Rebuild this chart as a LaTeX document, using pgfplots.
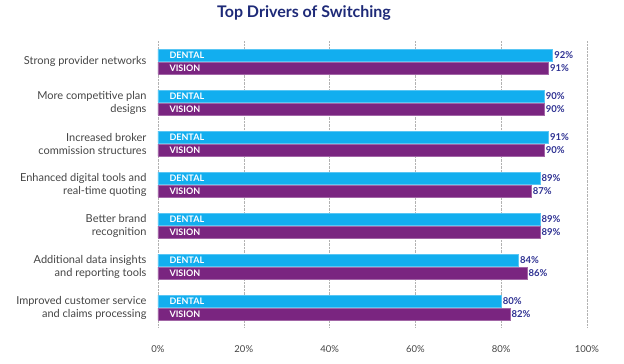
\documentclass[border=0pt]{standalone}
\usepackage{pgfplots}
\pgfplotsset{compat=1.18}
\usepackage{fontspec}
\setmainfont{Lato}
\setsansfont{Lato}
\definecolor{dental}{HTML}{12AEEF}
\definecolor{vision}{HTML}{7A2580}
\definecolor{navy}{HTML}{1E2A78}
\definecolor{valc}{HTML}{2E3192}
\definecolor{labc}{HTML}{454545}
\begin{document}
\begin{tikzpicture}
\path[use as bounding box] (0pt,0pt) rectangle (624pt,364pt);
\node[font=\fontsize{16}{18}\selectfont\bfseries, text=navy] at (304pt,351pt) {Top Drivers of Switching};
\begin{axis}[
  at={(158pt,36pt)}, anchor=south west,
  scale only axis, width=429pt, height=287pt,
  xmin=0, xmax=100,
  ymin=-0.5, ymax=6.5, y dir=reverse,
  axis line style={draw=none},
  major tick length=0pt,
  /pgf/number format/assume math mode=true,
  xtick={0,20,...,100},
  xticklabels={0\%,20\%,40\%,60\%,80\%,100\%},
  ytick={0,...,6},
  yticklabels={{Strong provider networks},{More competitive plan\\designs},{Increased broker\\commission structures},{Enhanced digital tools and\\real-time quoting},{Better brand\\recognition},{Additional data insights\\and reporting tools},{Improved customer service\\and claims processing}},
  yticklabel style={align=right, font=\fontsize{11}{13}\selectfont, text=labc, xshift=-8pt},
  xticklabel style={font=\fontsize{9.5}{10}\selectfont, text=labc, yshift=-14pt},
  xmajorgrids, grid style={densely dotted, gray!60},
  bar width=12pt,
  point meta=x,
  clip=false,
]
\addplot[xbar, bar shift=6.5pt, fill=dental, draw=dental!70!white,
  nodes near coords={\pgfmathprintnumber{\pgfplotspointmeta}\%},
  every node near coord/.append style={anchor=west, xshift=-1.8pt, yshift=6.5pt, font=\fontsize{9.5}{10}\selectfont\bfseries, text=valc}]
  coordinates {(92,0) (90,1) (91,2) (89,3) (89,4) (84,5) (80,6)};
\addplot[xbar, bar shift=-6.5pt, fill=vision, draw=vision!70!white,
  nodes near coords={\pgfmathprintnumber{\pgfplotspointmeta}\%},
  every node near coord/.append style={anchor=west, xshift=-1.8pt, yshift=-6.5pt, font=\fontsize{9.5}{10}\selectfont\bfseries, text=valc}]
  coordinates {(91,0) (90,1) (90,2) (87,3) (89,4) (86,5) (82,6)};
\addplot[draw=none, mark=none, forget plot,
  nodes near coords={DENTAL},
  every node near coord/.append style={anchor=west, xshift=8pt, yshift=6.5pt, font=\fontsize{9}{9}\selectfont\bfseries, text=white}]
  coordinates {(0,0) (0,1) (0,2) (0,3) (0,4) (0,5) (0,6)};
\addplot[draw=none, mark=none, forget plot,
  nodes near coords={VISION},
  every node near coord/.append style={anchor=west, xshift=8pt, yshift=-6.5pt, font=\fontsize{9}{9}\selectfont\bfseries, text=white}]
  coordinates {(0,0) (0,1) (0,2) (0,3) (0,4) (0,5) (0,6)};
\end{axis}
\end{tikzpicture}
\end{document}
